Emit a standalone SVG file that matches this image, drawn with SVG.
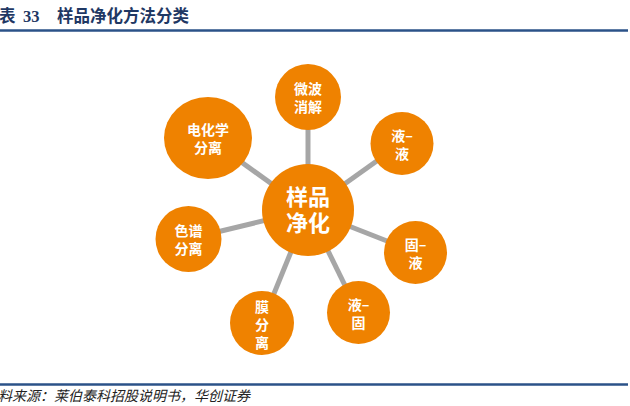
<svg xmlns="http://www.w3.org/2000/svg" width="630" height="406" viewBox="0 0 630 406">
<style>
.hdr{font-family:"Liberation Serif","Noto Sans CJK SC",serif;font-weight:bold;font-size:16.5px;fill:#1f3864}
.src{font-family:"Liberation Serif","Noto Sans CJK SC",serif;font-style:italic;font-size:14px;fill:#222}
.rule{stroke:#2b5288;stroke-width:2.5}
.node{fill:#ef8200}
.lbl{font-family:"Noto Sans CJK SC",sans-serif;font-weight:bold;font-size:14px;fill:#fff;text-anchor:middle}
.big{font-size:22px}
.conn line{stroke:#a6a6a6;stroke-width:5}
</style>
<rect width="630" height="406" fill="#fff"/>
<text class="hdr" x="-1" y="22">表</text>
<text class="hdr" x="23" y="22">33</text>
<text class="hdr" x="57" y="22">样品净化方法分类</text>
<line class="rule" x1="0" y1="30.5" x2="628" y2="30.5"/>
<g class="conn">
<line x1="308" y1="210" x2="308" y2="97"/>
<line x1="308" y1="210" x2="208" y2="138"/>
<line x1="308" y1="210" x2="402" y2="143"/>
<line x1="308" y1="210" x2="188" y2="239"/>
<line x1="308" y1="210" x2="415" y2="252"/>
<line x1="308" y1="210" x2="262" y2="323"/>
<line x1="308" y1="210" x2="358" y2="312"/>
</g>
<g id="center"><circle class="node" cx="308" cy="210" r="46"/><text class="lbl big"><tspan x="308" y="205">样品</tspan><tspan x="308" y="231">净化</tspan></text></g>
<g id="n-weibo"><circle class="node" cx="308" cy="97" r="33"/><text class="lbl"><tspan x="308" y="94">微波</tspan><tspan x="308" y="112">消解</tspan></text></g>
<g id="n-dianhua"><ellipse class="node" cx="208" cy="138" rx="44" ry="41"/><text class="lbl"><tspan x="208" y="135">电化学</tspan><tspan x="208" y="153">分离</tspan></text></g>
<g id="n-yeye"><circle class="node" cx="402" cy="143.5" r="31.5"/><text class="lbl"><tspan x="402" y="141">液–</tspan><tspan x="402" y="159">液</tspan></text></g>
<g id="n-sepu"><circle class="node" cx="188.5" cy="239" r="33"/><text class="lbl"><tspan x="188.5" y="236">色谱</tspan><tspan x="188.5" y="254">分离</tspan></text></g>
<g id="n-guye"><circle class="node" cx="415.5" cy="252.5" r="31.5"/><text class="lbl"><tspan x="415.5" y="250">固–</tspan><tspan x="415.5" y="268">液</tspan></text></g>
<g id="n-mo"><circle class="node" cx="262" cy="323" r="32"/><text class="lbl"><tspan x="262" y="312">膜</tspan><tspan x="262" y="330">分</tspan><tspan x="262" y="348">离</tspan></text></g>
<g id="n-yegu"><circle class="node" cx="358.5" cy="312.5" r="31.5"/><text class="lbl"><tspan x="358.5" y="310">液–</tspan><tspan x="358.5" y="328">固</tspan></text></g>
<line class="rule" x1="0" y1="384.5" x2="628" y2="384.5"/>
<text class="src" x="-2" y="401">料来源：莱伯泰科招股说明书，华创证券</text>
</svg>
